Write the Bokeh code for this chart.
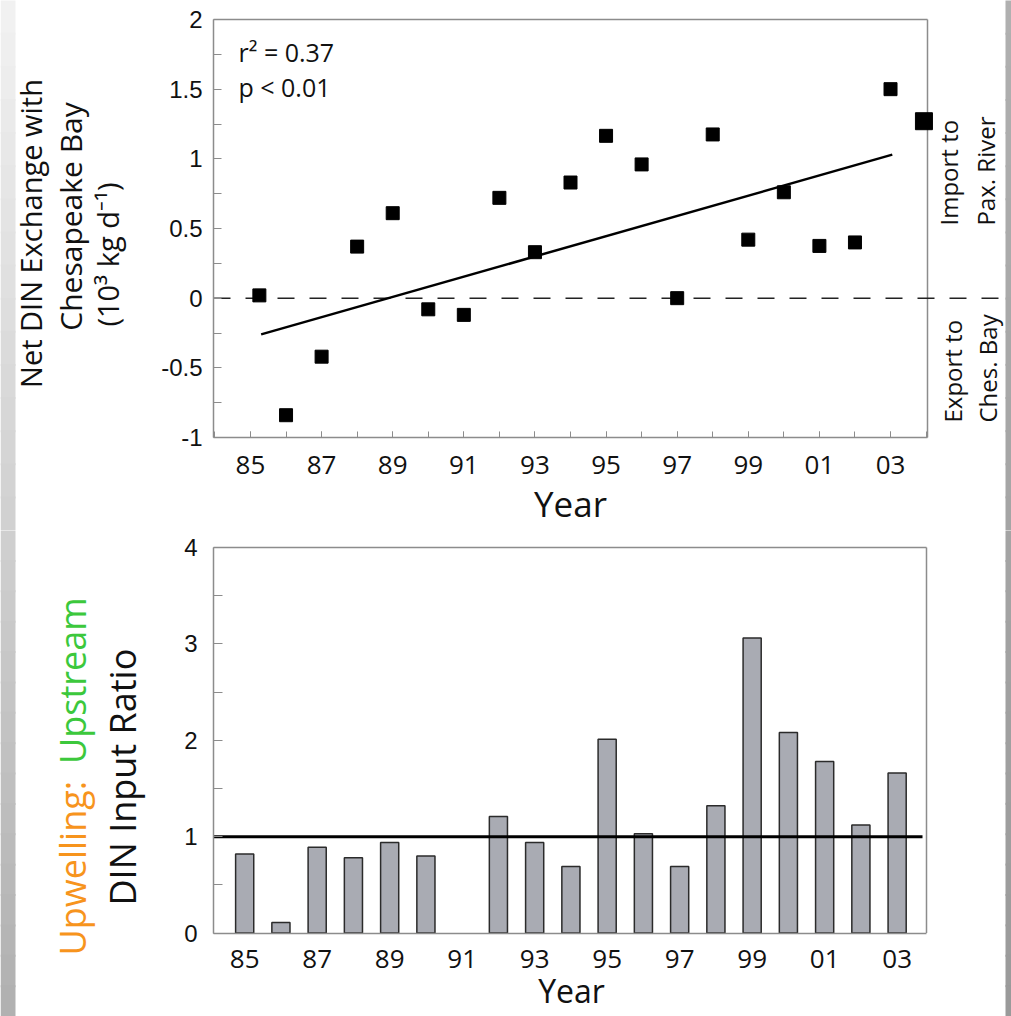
import math
from bokeh.plotting import figure
from bokeh.layouts import column
from bokeh.models import FixedTicker, Label, Range1d, LinearAxis
from bokeh.embed import file_html
from bokeh.resources import INLINE

# ---------------- data: top panel (net DIN exchange, 10^3 kg/d) ----------------
exch_year = [85.25, 86, 87, 88, 89, 90, 91, 92, 93, 94, 95, 96, 97, 98, 99, 100, 101, 102, 103]
exch_value = [0.02, -0.84, -0.42, 0.37, 0.61, -0.08, -0.12, 0.72, 0.33, 0.83, 1.165, 0.96,
              0.0, 1.175, 0.42, 0.76, 0.375, 0.40, 1.50]
mean_year = [103.94]
mean_value = [1.27]
trend_year = [85.3, 103.05]
trend_value = [-0.26, 1.03]

# ---------------- data: bottom panel (upwelling : upstream DIN input ratio) ----------------
ratio_year = [85, 86, 87, 88, 89, 90, 92, 93, 94, 95, 96, 97, 98, 99, 100, 101, 102, 103]  # no bar for 91
ratio_value = [0.82, 0.11, 0.89, 0.78, 0.94, 0.80, 1.21, 0.94, 0.69, 2.01, 1.03, 0.69,
               1.32, 3.06, 2.08, 1.78, 1.12, 1.66]
ratio_reference = 1.0

# ---------------- ticks ----------------
year_ticks = [85, 87, 89, 91, 93, 95, 97, 99, 101, 103]
year_tick_labels = ["85", "87", "89", "91", "93", "95", "97", "99", "01", "03"]
year_minor_ticks = list(range(84, 105))
exch_ticks = [-1, -0.5, 0, 0.5, 1, 1.5, 2]
exch_tick_labels = ["-1", "-0.5", "0", "0.5", "1", "1.5", "2"]
exch_minor_ticks = [-0.75, -0.25, 0.25, 0.75, 1.25, 1.75]
ratio_ticks = [0, 1, 2, 3, 4]
ratio_minor_ticks = [0.5, 1.5, 2.5, 3.5]

SANS = "Open Sans"
ARIAL = "Liberation Sans"
FRAME = "#8c8c8c"
INK = "#111111"
W = 1011
V = math.pi / 2
BASE_SHIFT = 0.42  # em; puts the glyph baseline on the requested pixel


class Panel:
    """Figure whose frame fills the canvas; the axis box sits at given pixel edges."""

    def __init__(self, height, box, xlim, ylim):
        self.h = height
        left, right, top, bottom = box
        self.box = box
        self.sx = (right - left) / (xlim[1] - xlim[0])
        self.sy = (bottom - top) / (ylim[1] - ylim[0])
        self.xlim, self.ylim = xlim, ylim
        xr = Range1d(xlim[0] - left / self.sx, xlim[1] + (W - right) / self.sx)
        yr = Range1d(ylim[0] - (height - bottom) / self.sy, ylim[1] + top / self.sy)
        p = figure(width=W, height=height, x_range=xr, y_range=yr, x_axis_type=None,
                   y_axis_type=None, output_backend="svg", toolbar_location=None,
                   min_border=0)
        p.outline_line_color = None
        p.grid.visible = False
        p.background_fill_color = "white"
        p.border_fill_color = "white"
        self.p = p

    def px(self, x):  # canvas pixel -> data x
        return self.xlim[0] + (x - self.box[0]) / self.sx

    def py(self, y):  # canvas pixel -> data y
        return self.ylim[0] + (self.box[3] - y) / self.sy

    def label(self, text, x, y, size=24, angle=0.0, align="left", color=INK, font=SANS):
        shift = BASE_SHIFT * size
        if angle:
            x -= shift
        else:
            y -= shift
        self.p.add_layout(Label(x=self.px(x), y=self.py(y), text=text, angle=angle,
                                text_align=align, text_baseline="alphabetic",
                                text_color=color, text_font=font,
                                text_font_size=f"{size}px"))

    def slide_edges(self, y0):
        # grey slide edges of the original page (left gradient strip, right strip)
        n = 16
        for i in range(n):
            ya, yb = i * self.h / n, (i + 1) * self.h / n
            f = (y0 + (ya + yb) / 2) / 1016
            g = int(round(242 - f * (242 - 176)))
            self.p.quad(left=self.px(0), right=self.px(15), top=self.py(ya - 1),
                        bottom=self.py(yb + 1), fill_color=(g, g, g), line_color=None)
            g2 = int(round(176 - f * (176 - 154)))
            self.p.quad(left=self.px(1005), right=self.px(W), top=self.py(ya - 1),
                        bottom=self.py(yb + 1), fill_color=(g2, g2, g2), line_color=None)


def style_axis(ax, font, size, standoff, tick_in, minor_in):
    ax.axis_line_color = FRAME
    ax.axis_line_width = 1.5
    ax.major_tick_line_color = FRAME
    ax.minor_tick_line_color = FRAME
    ax.major_tick_out = 0
    ax.minor_tick_out = 0
    ax.major_tick_in = tick_in
    ax.minor_tick_in = minor_in
    ax.major_label_text_font = font
    ax.major_label_text_font_size = size
    ax.major_label_text_color = INK
    ax.major_label_standoff = standoff


# ================= top panel =================
H1 = 530
top = Panel(H1, (213, 927, 19, 437), (83.96, 104.04), (-1, 2))
p1 = top.p
xa = LinearAxis(fixed_location=-1, bounds=top.xlim,
                ticker=FixedTicker(ticks=year_ticks, minor_ticks=year_minor_ticks),
                major_label_overrides=dict(zip(year_ticks, year_tick_labels)))
style_axis(xa, SANS, "26px", 18, 6, 6)
p1.add_layout(xa, "below")
ya = LinearAxis(fixed_location=top.xlim[0], bounds=top.ylim,
                ticker=FixedTicker(ticks=exch_ticks, minor_ticks=exch_minor_ticks),
                major_label_overrides=dict(zip(exch_ticks, exch_tick_labels)))
style_axis(ya, ARIAL, "24px", 11, 8, 8)
p1.add_layout(ya, "left")

# frame top and right edges; zero line runs past the right edge
p1.line([top.xlim[0], top.xlim[1]], [top.ylim[1], top.ylim[1]], line_color=FRAME, line_width=1.5)
p1.line([top.xlim[1], top.xlim[1]], [top.ylim[0], top.ylim[1]], line_color=FRAME, line_width=1.5)
p1.line([top.xlim[0], p1.x_range.end], [0, 0], line_color="#222222", line_width=1.5,
        line_dash="17 15")
p1.line(trend_year, trend_value, line_color="black", line_width=2.5)
p1.scatter(exch_year, exch_value, marker="square", size=13, color="black")
p1.scatter(mean_year, mean_value, marker="square", size=17, color="black")

top.label("r² = 0.37", 238, 62, size=25)
top.label("p < 0.01", 238, 97, size=25)
top.label("Import  to", 958, 225, angle=V)
top.label("Pax. River", 995, 225, angle=V)
top.label("Export to", 962, 422, angle=V)
top.label("Ches. Bay", 997, 422, angle=V)
top.label("Net DIN Exchange with", 42, 233, size=29, angle=V, align="center")
top.label("Chesapeake Bay", 83, 216, size=30, angle=V, align="center")
top.label("(10³ kg d⁻¹)", 119, 254, size=29, angle=V, align="center")
top.label("Year", 570, 518, size=35, align="center")
top.slide_edges(0)

# ================= bottom panel =================
H2 = 1016 - H1
OFF = H1
bot = Panel(H2, (213, 926, 547 - OFF, 932.5 - OFF), (84.14, 103.81), (0, 4))
p2 = bot.p
xb = LinearAxis(fixed_location=0, bounds=bot.xlim, ticker=FixedTicker(ticks=year_ticks),
                major_label_overrides=dict(zip(year_ticks, year_tick_labels)))
style_axis(xb, SANS, "26px", 17, 0, 0)
p2.add_layout(xb, "below")
yb = LinearAxis(fixed_location=bot.xlim[0], bounds=bot.ylim,
                ticker=FixedTicker(ticks=ratio_ticks, minor_ticks=ratio_minor_ticks))
style_axis(yb, ARIAL, "24px", 16, 9, 9)
p2.add_layout(yb, "left")
p2.line([bot.xlim[0], bot.xlim[1]], [bot.ylim[1], bot.ylim[1]], line_color=FRAME, line_width=1.5)
p2.line([bot.xlim[1], bot.xlim[1]], [bot.ylim[0], bot.ylim[1]], line_color=FRAME, line_width=1.5)

p2.vbar(x=ratio_year, top=ratio_value, bottom=0, width=0.5, fill_color="#a9abb3",
        line_color="#2b2b2b", line_width=1.5)
p2.line([bot.xlim[0], bot.px(922)], [ratio_reference, ratio_reference], line_color="black",
        line_width=3)

bot.label("Upwelling:", 87, 955 - OFF, size=36, angle=V, color="#f7941d")
bot.label("Upstream", 87, 597 - OFF, size=36, angle=V, align="right", color="#3cc83c")
bot.label("DIN Input Ratio", 137, 905 - OFF, size=36, angle=V)
bot.label("Year", 571, 1003 - OFF, size=32, align="center")
bot.slide_edges(OFF)

layout = column(p1, p2, spacing=0)
open("out.html", "w").write(file_html(layout, INLINE))
